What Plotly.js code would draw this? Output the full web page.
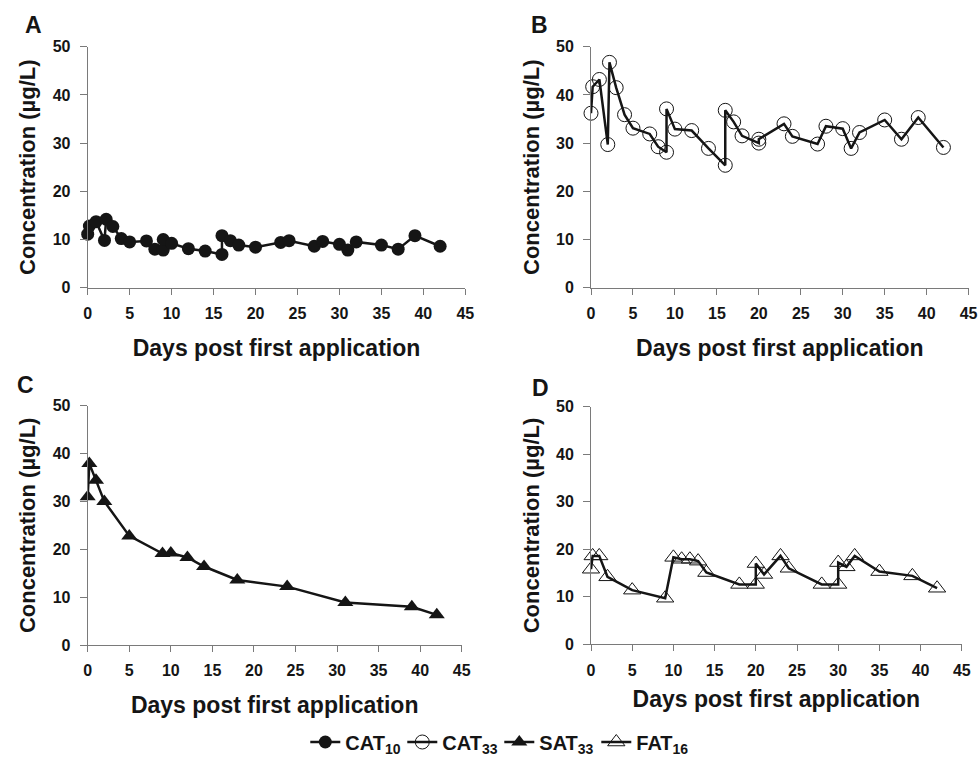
<!DOCTYPE html>
<html>
<head>
<meta charset="utf-8">
<script src="https://cdn.plot.ly/plotly-3.0.1.min.js"></script>
<style>html,body{margin:0;padding:0;background:#fff;}#chart{width:979px;height:763px;}</style>
</head>
<body>
<div id="chart"></div>
<script>
// ---- Data ----
const seriesNames = ["<b>CAT<sub>10</sub></b>", "<b>CAT<sub>33</sub></b>", "<b>SAT<sub>33</sub></b>", "<b>FAT<sub>16</sub></b>"];
const panelLetters = ["A", "B", "C", "D"];
const xTickVals = [0, 5, 10, 15, 20, 25, 30, 35, 40, 45];
const yTickVals = [0, 10, 20, 30, 40, 50];

const daysA = [0, 0.2, 1, 2, 2.2, 3, 4, 5, 7, 8, 9, 9, 10, 12, 14, 16, 16, 17, 18, 20, 23, 24, 27, 28, 30, 31, 32, 35, 37, 39, 42];
const concA = [11.1, 12.8, 13.7, 9.8, 14.2, 12.7, 10.2, 9.5, 9.7, 8.0, 7.8, 10.0, 9.2, 8.1, 7.6, 6.9, 10.8, 9.75, 8.85, 8.4, 9.4, 9.75, 8.6, 9.6, 9.0, 7.8, 9.5, 8.85, 8.0, 10.8, 8.6];

const daysB = [0, 0.2, 1, 2, 2.2, 3, 4, 5, 7, 8, 9, 9, 10, 12, 14, 16, 16, 17, 18, 20, 20, 23, 24, 27, 28, 30, 31, 32, 35, 37, 39, 42];
const concB = [36.2, 41.7, 43.2, 29.7, 46.75, 41.5, 35.9, 33.1, 31.9, 29.25, 28.1, 37.1, 32.9, 32.6, 28.9, 25.4, 36.8, 34.4, 31.5, 30.0, 30.8, 34.0, 31.4, 29.8, 33.5, 33.0, 28.9, 32.2, 34.8, 30.8, 35.3, 29.1];

const daysC = [0, 0.2, 1, 2, 5, 9, 10, 12, 14, 18, 24, 31, 39, 42];
const concC = [31.0, 37.9, 34.4, 30.0, 22.8, 19.1, 19.2, 18.3, 16.4, 13.6, 12.2, 8.9, 8.0, 6.3];

const daysD = [0, 0.2, 1, 2, 5, 9, 10, 11, 12, 13, 14, 18, 20, 20, 21, 23, 24, 28, 30, 30, 31, 32, 35, 39, 42];
const concD = [15.8, 18.6, 18.6, 14.2, 11.4, 9.7, 18.3, 17.9, 17.9, 17.5, 15.1, 12.6, 12.6, 17.0, 14.7, 18.6, 16.0, 12.6, 12.6, 17.2, 16.3, 18.6, 15.3, 14.4, 11.8];

const xTitle = "Days post first application";
const yTitle = "Concentration (µg/L)";

// ---- Styling ----
const FONT = "Liberation Sans, Arial, Helvetica, sans-serif";
const INK = "#151515";
const AXIS = "#7a7a7a";

const markerStyles = [
  {symbol: "circle", size: 13, color: INK, line: {width: 0}},
  {symbol: "circle-open", size: 14, color: INK, line: {width: 1, color: INK}},
  {symbol: "triangle-up", size: 14, color: INK, line: {width: 0}},
  {symbol: "triangle-up-open", size: 15, color: INK, line: {width: 1, color: INK}}
];

const xs = [daysA, daysB, daysC, daysD];
const ys = [concA, concB, concC, concD];
const axisIds = [["x", "y"], ["x2", "y2"], ["x3", "y3"], ["x4", "y4"]];

const traces = xs.map((x, i) => ({
  type: "scatter",
  mode: "lines+markers",
  x: x,
  y: ys[i],
  name: seriesNames[i],
  legendwidth: 52,
  xaxis: axisIds[i][0],
  yaxis: axisIds[i][1],
  cliponaxis: false,
  line: {color: INK, width: 2.5},
  marker: markerStyles[i]
}));

const W = 979, H = 763;
// pixel positions of axes: [x0px, x45px, y0px, y50px]
const boxes = [
  [87.7, 465.3, 287.7, 46.7],
  [591, 968.6, 287.7, 46.7],
  [87.7, 461.7, 645, 405.7],
  [591, 961.8, 644.3, 406.7]
];
const xTitleStandoff = [18, 18, 18, 13];

function xaxisDef(b, i) {
  return {
    domain: [b[0] / W, b[1] / W],
    range: [0, 45],
    tickvals: xTickVals,
    ticks: "outside", ticklen: 6, tickwidth: 1, tickcolor: AXIS,
    showline: true, linecolor: AXIS, linewidth: 1,
    showgrid: false, zeroline: false,
    tickfont: {family: FONT, size: 16, color: INK, weight: "bold"},
    ticklabelstandoff: 5,
    title: {text: xTitle, font: {family: FONT, size: 23, color: INK, weight: "bold"}, standoff: xTitleStandoff[i]},
    fixedrange: true
  };
}
function yaxisDef(b, anchor) {
  return {
    domain: [1 - b[2] / H, 1 - b[3] / H],
    range: [0, 50],
    tickvals: yTickVals,
    ticks: "outside", ticklen: 7, tickwidth: 1, tickcolor: AXIS,
    showline: true, linecolor: AXIS, linewidth: 1,
    showgrid: false, zeroline: false,
    tickfont: {family: FONT, size: 16, color: INK, weight: "bold"},
    ticklabelstandoff: 6,
    title: {text: yTitle, font: {family: FONT, size: 22, color: INK, weight: "bold"}, standoff: 10},
    anchor: anchor,
    fixedrange: true
  };
}

const layout = {
  width: W, height: H,
  margin: {l: 0, r: 0, t: 0, b: 0},
  paper_bgcolor: "#fff", plot_bgcolor: "#fff",
  font: {family: FONT, color: INK},
  showlegend: true,
  legend: {
    orientation: "h", x: 0.51, xanchor: "center", y: 1 - 742 / H, yanchor: "middle",
    font: {family: FONT, size: 20, color: INK, weight: "bold"},
    itemwidth: 30, traceorder: "normal", tracegroupgap: 0
  },
  xaxis: Object.assign(xaxisDef(boxes[0], 0), {anchor: "y"}),
  yaxis: yaxisDef(boxes[0], "x"),
  xaxis2: Object.assign(xaxisDef(boxes[1], 1), {anchor: "y2"}),
  yaxis2: yaxisDef(boxes[1], "x2"),
  xaxis3: Object.assign(xaxisDef(boxes[2], 2), {anchor: "y3"}),
  yaxis3: yaxisDef(boxes[2], "x3"),
  xaxis4: Object.assign(xaxisDef(boxes[3], 3), {anchor: "y4"}),
  yaxis4: yaxisDef(boxes[3], "x4"),
  annotations: [
    {text: panelLetters[0], x: 33 / W, y: 1 - 25 / H},
    {text: panelLetters[1], x: 539 / W, y: 1 - 25 / H},
    {text: panelLetters[2], x: 25 / W, y: 1 - 385 / H},
    {text: panelLetters[3], x: 540 / W, y: 1 - 388 / H}
  ].map(a => Object.assign(a, {
    xref: "paper", yref: "paper", showarrow: false, xanchor: "center", yanchor: "middle",
    font: {family: FONT, size: 23, color: INK, weight: "bold"}
  }))
};

Plotly.newPlot("chart", traces, layout, {staticPlot: true, displayModeBar: false});
</script>
</body>
</html>
